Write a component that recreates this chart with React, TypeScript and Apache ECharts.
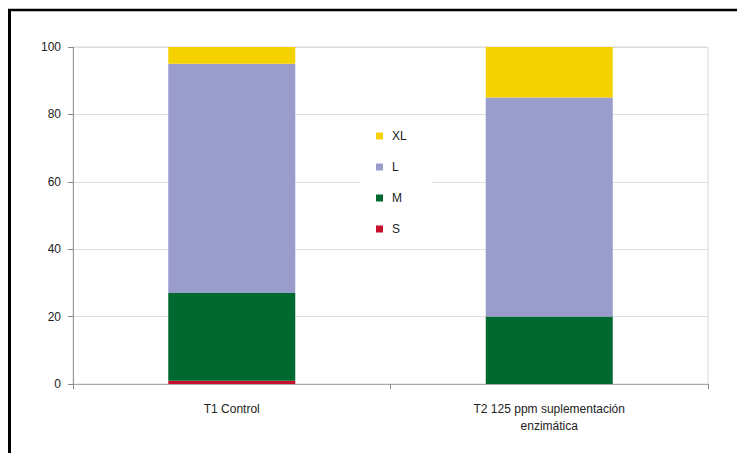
import React, { useEffect, useRef } from "react";
import * as echarts from "echarts";

const categories = ["T1 Control", "T2 125 ppm suplementación\nenzimática"];
const seriesNames = ["S", "M", "L", "XL"];
const sValues = [1, 0];
const mValues = [26, 20];
const lValues = [68, 65];
const xlValues = [5, 15];
const colors = ["#c8102e", "#00692f", "#9a9ccb", "#f4d200"];
const yTicks = [0, 20, 40, 60, 80, 100];

export default function App() {
  const ref = useRef<HTMLDivElement>(null);
  useEffect(() => {
    if (!ref.current) return;
    const chart = echarts.init(ref.current, null, { renderer: "svg" });
    const values = [sValues, mValues, lValues, xlValues];
    chart.setOption({
      animation: false,
      backgroundColor: "#ffffff",
      textStyle: { fontFamily: "Liberation Sans, Arial, sans-serif" },
      grid: { left: 73, right: 29, top: 47, bottom: 69, show: true, borderColor: "#d9d9d9", borderWidth: 1 },
      graphic: [
        { type: "line", shape: { x1: 9.5, y1: 9, x2: 9.5, y2: 460 }, style: { stroke: "#000", lineWidth: 3 }, z: 100 },
        { type: "line", shape: { x1: 8, y1: 10, x2: 740, y2: 10 }, style: { stroke: "#000", lineWidth: 2.5 }, z: 100 },
      ],
      legend: {
        orient: "vertical",
        left: 360,
        top: 122,
        data: ["XL", "L", "M", "S"],
        icon: "rect",
        itemWidth: 7,
        itemHeight: 7,
        itemGap: 17,
        padding: [7, 25, 7, 16],
        backgroundColor: "#ffffff",
        textStyle: { fontSize: 12, color: "#222", lineHeight: 14, padding: [0, 0, 0, 4], fontFamily: "Liberation Sans, Arial, sans-serif" },
        z: 10,
      },
      xAxis: {
        type: "category",
        data: categories,
        axisLine: { lineStyle: { color: "#aaaaaa", width: 1 } },
        axisTick: { show: true, alignWithLabel: false, length: 5, lineStyle: { color: "#888" } },
        axisLabel: { color: "#222", fontSize: 12, margin: 16, lineHeight: 17 },
      },
      yAxis: {
        type: "value",
        min: 0,
        max: 100,
        interval: 20,
        axisLine: { show: true, lineStyle: { color: "#999999" } },
        axisTick: { show: true, length: 5, lineStyle: { color: "#888" } },
        axisLabel: { color: "#222", fontSize: 12, margin: 12, formatter: (v: number) => (yTicks.includes(v) ? String(v) : "") },
        splitLine: { show: true, lineStyle: { color: "#dddddd" } },
      },
      series: seriesNames.map((name, i) => ({
        name,
        type: "bar",
        stack: "total",
        barWidth: "40%",
        data: values[i],
        itemStyle: { color: colors[i] },
      })),
    });
    return () => chart.dispose();
  }, []);
  return <div ref={ref} style={{ position: "absolute", left: 0, top: 0, width: 737, height: 453 }} />;
}
